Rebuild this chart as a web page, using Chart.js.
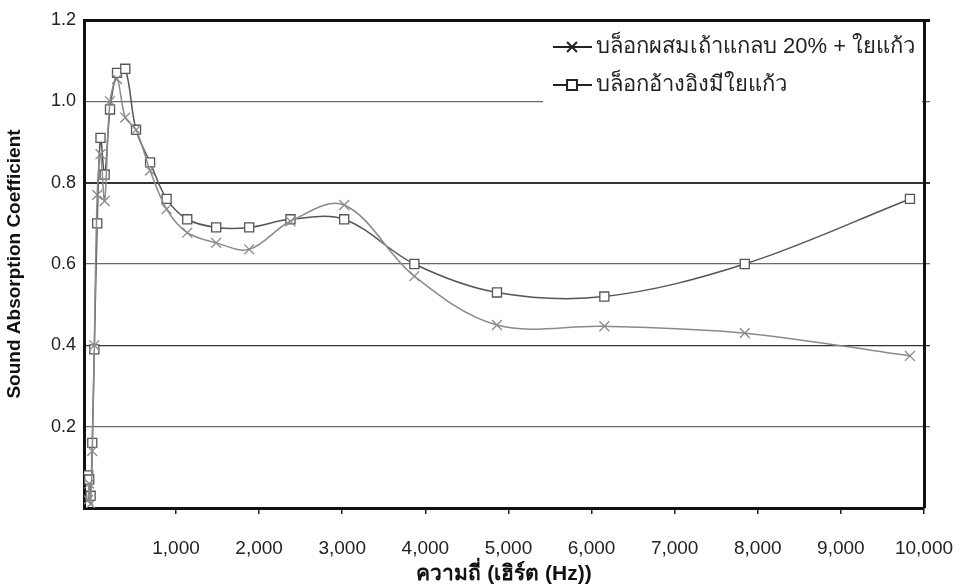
<!DOCTYPE html>
<html>
<head>
<meta charset="utf-8">
<script src="https://cdn.jsdelivr.net/npm/chart.js@4.4.0/dist/chart.umd.min.js"></script>
<style>
html, body { margin: 0; padding: 0; background: #fff; }
</style>
</head>
<body>
<canvas id="chart0" width="960" height="587"></canvas>
<script>
// third-octave band centre frequencies (Hz)
const freqs = [50, 63, 80, 100, 125, 160, 200, 250, 315, 400, 500, 630, 800, 1000, 1250, 1600, 2000, 2500, 3150, 4000, 5000, 6300, 8000, 10000];
const ashBlock = [0.02, 0.06, 0.01, 0.14, 0.40, 0.77, 0.87, 0.755, 1.0, 1.055, 0.96, 0.93, 0.83, 0.735, 0.677, 0.652, 0.636, 0.705, 0.745, 0.57, 0.45, 0.447, 0.43, 0.374];
const refBlock = [0.08, 0.07, 0.03, 0.16, 0.39, 0.70, 0.91, 0.82, 0.98, 1.07, 1.08, 0.93, 0.85, 0.76, 0.71, 0.69, 0.69, 0.71, 0.71, 0.60, 0.53, 0.52, 0.60, 0.76];
const seriesNames = ['บล็อกผสมเถ้าแกลบ 20% + ใยแก้ว', 'บล็อกอ้างอิงมีใยแก้ว'];
const xTickValues = [1000, 2000, 3000, 4000, 5000, 6000, 7000, 8000, 9000, 10000];
const yTickValues = [0.2, 0.4, 0.6, 0.8, 1.0, 1.2];

const FONT = "'Liberation Sans', Arial, sans-serif";

function gridColor(c) {
	const v = c.tick ? Math.round(c.tick.value * 10) / 10 : 0;
	if (v === 1.2) return '#111';
	if (v === 0.8 || v === 0.4) return '#333';
	return '#6a6a6a';
}
function gridWidth(c) {
	const v = c.tick ? Math.round(c.tick.value * 10) / 10 : 0;
	if (v === 1.2) return 3;
	if (v === 0.8) return 2;
	return 1.3;
}

// no extra room for overflowing tick labels, the canvas margins are fixed
function noPad(s) {
	s.paddingLeft = 0;
	s.paddingRight = 0;
	s.paddingTop = 0;
	s.paddingBottom = 0;
}

// legend drawn inside the plot, top right, on a white box
const boxLegend = {
	id: 'boxLegend',
	beforeDatasetsDraw(chart) {
		const ctx = chart.ctx;
		const area = chart.chartArea;
		const x0 = area.right - 381;
		ctx.save();
		ctx.fillStyle = '#fff';
		ctx.fillRect(x0, area.top + 2, 379, 98);
		chart.data.datasets.forEach((ds, i) => {
			const y = area.top + 27 + i * 38;
			ctx.strokeStyle = '#222';
			ctx.lineWidth = 2;
			ctx.beginPath();
			ctx.moveTo(x0 + 10, y);
			ctx.lineTo(x0 + 49, y);
			ctx.stroke();
			ctx.fillStyle = '#fff';
			Chart.helpers.drawPoint(ctx, {pointStyle: ds.pointStyle, radius: 7, borderWidth: 2, rotation: 0}, x0 + 29, y);
			ctx.fillStyle = '#222';
			ctx.font = '22px ' + FONT;
			ctx.textBaseline = 'middle';
			ctx.textAlign = 'left';
			ctx.fillText(ds.label, x0 + 53, y);
		});
		ctx.restore();
	}
};

new Chart('chart0', {
	type: 'line',
	data: {
		datasets: [
			{
				label: seriesNames[0],
				data: freqs.map((f, i) => ({x: f, y: ashBlock[i]})),
				borderColor: '#8a8a8a',
				backgroundColor: '#fff',
				borderWidth: 1.5,
				pointStyle: 'crossRot',
				pointRadius: 7,
				pointBorderWidth: 1.3,
				tension: 0.35,
				fill: false
			},
			{
				label: seriesNames[1],
				data: freqs.map((f, i) => ({x: f, y: refBlock[i]})),
				borderColor: '#555',
				backgroundColor: '#fff',
				borderWidth: 1.5,
				pointStyle: 'rect',
				pointRadius: 6.4,
				pointBorderWidth: 1.3,
				tension: 0.35,
				fill: false
			}
		]
	},
	options: {
		responsive: false,
		animation: false,
		layout: {padding: {top: 20, left: 0, right: 0, bottom: 0}},
		plugins: {legend: {display: false}, tooltip: {enabled: false}},
		scales: {
			x: {
				type: 'linear',
				min: 0,
				max: 10170,
				display: false
			},
			x2: {
				type: 'linear',
				position: 'bottom',
				min: -107,
				max: 10000,
				afterBuildTicks: s => { s.ticks = xTickValues.map(v => ({value: v})); },
				afterFit: s => { s.height = 79; noPad(s); },
				grid: {drawOnChartArea: false, color: '#222', lineWidth: 1.5, tickLength: 6},
				border: {color: '#111', width: 3},
				ticks: {
					color: '#222',
					font: {family: FONT, size: 19},
					padding: 23,
					maxRotation: 0,
					callback: v => v.toLocaleString('en-US')
				},
				title: {
					display: true,
					text: 'ความถี่ (เฮิร์ต (Hz))',
					color: '#111',
					font: {family: FONT, size: 21, weight: 'bold'},
					padding: {top: 0, bottom: 0}
				}
			},
			y: {
				min: 0,
				max: 1.2,
				afterBuildTicks: s => { s.ticks = yTickValues.map(v => ({value: v})); },
				afterFit: s => { s.width = 84; noPad(s); },
				grid: {color: gridColor, lineWidth: gridWidth, drawTicks: false},
				border: {color: '#111', width: 3},
				ticks: {
					color: '#222',
					font: {family: FONT, size: 18},
					padding: 8,
					callback: v => v.toFixed(1)
				},
				title: {
					display: true,
					text: 'Sound Absorption Coefficient',
					color: '#111',
					font: {family: FONT, size: 19, weight: 'bold'},
					padding: {top: 3, bottom: 0}
				}
			},
			yR: {
				position: 'right',
				min: 0,
				max: 1.2,
				afterBuildTicks: s => { s.ticks = yTickValues.map(v => ({value: v})); },
				afterFit: s => { s.width = 36; noPad(s); },
				grid: {drawOnChartArea: false, color: gridColor, lineWidth: gridWidth, tickLength: 6},
				border: {color: '#111', width: 3},
				ticks: {display: false}
			}
		}
	},
	plugins: [boxLegend]
});
</script>
</body>
</html>
